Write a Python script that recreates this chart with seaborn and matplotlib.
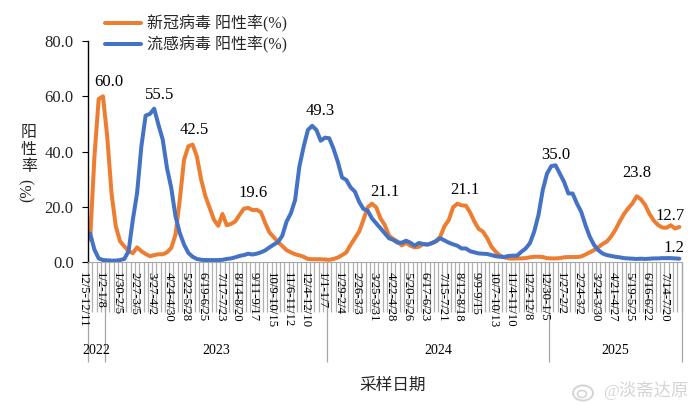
import numpy as np
import pandas as pd
import seaborn as sns
import matplotlib.pyplot as plt
from matplotlib.patches import Ellipse

covid = [8.1, 38, 59, 60.0, 45.5, 25, 13, 7.5, 5.7, 3.9,
         3.2, 5.3, 3.9, 2.9, 2.1, 2.5, 2.8, 2.8, 3.5, 5.1,
         9.9, 22.6, 37, 41.9, 42.5, 38.2, 29.8, 23.8, 19.5, 15.3,
         13.1, 17.4, 13.3, 13.8, 14.7, 17.1, 19.3, 19.6, 18.8, 18.9,
         18, 14.1, 10.7, 9, 7.2, 5.8, 4.3, 3.5, 2.8, 2.4,
         1.9, 1.1, 1, 1, 1, 0.9, 0.8, 1.1, 1.6, 2.5,
         3.5, 6.2, 8.6, 11, 15.2, 19.8, 21.1, 19.8, 15.8, 13.4,
         9.5, 8.3, 7.4, 6, 7, 5.9, 5.3, 5.5, 6.5, 6.3,
         6.8, 7.4, 9.2, 13, 15.2, 19.8, 21.1, 20.5, 20.4, 17.9,
         14.6, 12, 11, 8.6, 5.5, 3.7, 2.3, 1.7, 1.3, 1.2,
         1.3, 1.3, 1.4, 1.7, 1.9, 1.9, 1.8, 1.4, 1.3, 1.3,
         1.4, 1.7, 1.8, 1.8, 1.8, 2, 2.7, 3.5, 4.3, 5.3,
         6.5, 7.4, 9.2, 11.6, 14.6, 17.3, 19.4, 21.2, 23.8, 22.7,
         20.6, 17.4, 15, 13.4, 12.5, 12.4, 13.3, 12.1, 12.7]
flu = [10.3, 4.5, 1.3, 0.7, 0.6, 0.5, 0.5, 0.7, 1.1, 3.9,
       15.3, 25, 41.9, 53, 53.6, 55.5, 49.7, 44.3, 34, 26.8,
       16.5, 10.5, 6.3, 3.3, 1.9, 1.1, 0.8, 0.7, 0.7, 0.7,
       0.7, 0.8, 1.1, 1.3, 1.7, 2.2, 2.5, 3, 2.7, 3,
       3.5, 4.2, 5.3, 6.3, 7.2, 9.5, 14.6, 17.6, 22.4, 34.5,
       41.7, 47.8, 49.3, 47.8, 43.9, 45, 44.8, 41, 36.3, 30.6,
       29.7, 27, 25.5, 21.8, 19.2, 18.6, 15.8, 14, 12.2, 10.4,
       8.6, 8, 7, 7, 7.7, 7, 5.9, 6.9, 6.5, 6.3,
       6.8, 7.6, 8.6, 7.8, 7, 6.4, 5.9, 4.9, 4.9, 3.9,
       3.5, 3.1, 3, 2.9, 2.5, 2.1, 1.9, 1.8, 2.2, 2.3,
       2.3, 3.7, 4.9, 6.8, 11, 17, 26, 32, 34.7, 35.0,
       32, 29, 24.8, 24.8, 21.2, 18.2, 13.4, 9.2, 6.2, 4.3,
       3.1, 2.5, 2.2, 1.9, 1.7, 1.4, 1.3, 1.2, 1.1, 1.2,
       1.1, 1.2, 1.3, 1.3, 1.4, 1.4, 1.4, 1.3, 1.2]
week_labels = ['12/5-12/11', '1/2-1/8', '1/30-2/5', '2/27-3/5', '3/27-4/2', '4/24-4/30',
               '5/22-5/28', '6/19-6/25', '7/17-7/23', '8/14-8/20', '9/11-9/17', '10/9-10/15',
               '11/6-11/12', '12/4-12/10', '1/1-1/7', '1/29-2/4', '2/26-3/3', '3/25-3/31',
               '4/22-4/28', '5/20-5/26', '6/17-6/23', '7/15-7/21', '8/12-8/18', '9/9-9/15',
               '10/7-10/13', '11/4-11/10', '12/2-12/8', '12/30-1/5', '1/27-2/2', '2/24-3/2',
               '3/24-3/30', '4/21-4/27', '5/19-5/25', '6/16-6/22', '7/14-7/20']
years = ['2022', '2023', '2024', '2025']
year_edges = [-0.5, 3.5, 55.5, 107.5, 138.5]
covid_name = '新冠病毒 阳性率(%)'
flu_name = '流感病毒 阳性率(%)'

sns.set_style('ticks')
plt.rcParams['font.family'] = ['Liberation Serif', 'Noto Sans CJK SC', 'DejaVu Sans']
PX = 0.72  # pixels to points at dpi 100

df = pd.DataFrame({'week': np.arange(len(covid)), covid_name: covid, flu_name: flu})
long_df = df.melt('week', var_name='series', value_name='rate')

W, H = 694, 408
fig = plt.figure(figsize=(W / 100, H / 100), dpi=100)
ax = fig.add_axes([88 / W, 1 - 262 / H, 593.5 / W, 221 / H])
ax.patch.set_alpha(0)

sns.lineplot(data=long_df, x='week', y='rate', hue='series',
             palette=['#ED7D31', '#4472C4'], linewidth=4 * PX, ax=ax,
             solid_capstyle='round', solid_joinstyle='round', clip_on=False)

ax.set_xlim(-0.5, 138.5)
ax.set_ylim(0, 80)
ax.set_xlabel('')
ax.set_ylabel('')
sns.despine(ax=ax)
ax.spines['bottom'].set_color('#a6a6a6')
ax.spines['left'].set_color('black')
ax.spines['left'].set_linewidth(1.0)

ax.set_yticks(range(0, 81, 20))
ax.set_yticklabels([f'{v:.1f}' for v in range(0, 81, 20)], fontsize=12)
ax.tick_params(axis='y', length=6 * PX, width=0.8, color='black', pad=6)

# weekly ticks are long and grey, the year dividers run further down
ax.xaxis.remove_overlapping_locs = False
ax.set_xticks(np.arange(140) - 0.5)
ax.set_xticklabels([])
ax.set_xticks(year_edges, minor=True)
ax.tick_params(axis='x', which='major', length=50 * PX, width=0.9, color='#b0b0b0')
ax.tick_params(axis='x', which='minor', length=100 * PX, width=0.9, color='#a6a6a6')

for n, lab in enumerate(week_labels):
    ax.annotate(lab, xy=(n * 4 - 0.5, 0), xycoords=('data', 'axes fraction'),
                xytext=(-5 * PX, -10 * PX), textcoords='offset points',
                rotation=270, ha='center', va='top', fontsize=9.2, color='black')

for n, yr in enumerate(years):
    mid = (year_edges[n] + year_edges[n + 1]) / 2
    ax.annotate(yr, xy=(mid, 0), xycoords=('data', 'axes fraction'),
                xytext=(0, -88 * PX), textcoords='offset points',
                ha='center', va='center', fontsize=10, color='black')

# data labels, offsets in pixels from the point
callouts = [(covid, 3, 6, 14), (flu, 15, 5, 14), (covid, 24, 2, 15), (covid, 37, 5, 15),
            (flu, 52, 8, 15), (covid, 66, 13, 12), (covid, 86, 8, 14), (flu, 109, 0, 10),
            (covid, 128, 0, 23), (covid, 138, -9, 11), (flu, 138, -5, 11)]
for series, i, dx, dy in callouts:
    ax.annotate(f'{series[i]:.1f}', xy=(i, series[i]), xytext=(dx * PX, dy * PX),
                textcoords='offset points', ha='center', va='center',
                fontsize=12, color='black')

handles, labels = ax.get_legend_handles_labels()
ax.legend(handles, labels, loc='upper left', bbox_to_anchor=(105 / W, 1 - 15 / H),
          bbox_transform=fig.transFigure, frameon=False, fontsize=11.5,
          handlelength=2.25, handletextpad=0.35, labelspacing=0.2,
          borderpad=0, borderaxespad=0)

fig.text(393 / W, 1 - 386 / H, '采样日期', fontsize=12, ha='center', va='center')
fig.text(29 / W, 1 - 150 / H, '阳\n性\n率', fontsize=11.5, ha='center', va='center', linespacing=1.1)
fig.text(28 / W, 1 - 190 / H, '(%)', fontsize=11.5, rotation=90, ha='center', va='center')

# watermark
fig.text(688 / W, 1 - 391 / H, '@淡斋达原', fontsize=12.5, ha='right', va='center', color='#d4d4d4')
fig.add_artist(Ellipse((583 / W, 1 - 393 / H), 20 / W, 15 / H, transform=fig.transFigure,
                       fill=False, edgecolor='#d4d4d4', linewidth=1.4))
fig.add_artist(Ellipse((582 / W, 1 - 394 / H), 9 / W, 7 / H, transform=fig.transFigure,
                       fill=False, edgecolor='#d4d4d4', linewidth=1.2))

fig.savefig('out.png', dpi=100)
